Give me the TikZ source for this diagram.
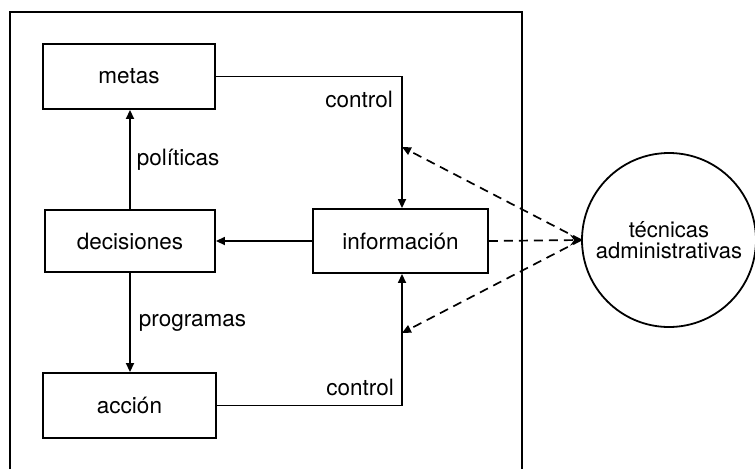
\documentclass[tikz,border=0pt]{standalone}
\usepackage{fontspec}
\setmainfont{TeX Gyre Heros}
\usetikzlibrary{arrows.meta}
\begin{document}
\begin{tikzpicture}[x=1pt,y=-1pt,
  every node/.style={font=\fontsize{22.5}{24}\selectfont},
  box/.style={draw,line width=1.9pt,inner sep=0pt},
  conn/.style={line width=1.7pt},
  arr/.style={conn,-{Triangle[length=9pt,width=8pt]}},
  dsh/.style={line width=1.7pt,dash pattern=on 9pt off 6pt},
  lbl/.style={inner sep=0pt}]
\useasboundingbox (0,0) rectangle (755,469);
\draw[line width=1.7pt] (10,469) -- (10,12) -- (522,12) -- (522,469);
\node[box,minimum width=172pt,minimum height=65pt] (metas) at (129,76.5) {metas};
\node[box,minimum width=170pt,minimum height=62pt] (decisiones) at (130,241) {decisiones};
\node[box,minimum width=173pt,minimum height=65pt] (accion) at (129.5,405.5) {acción};
\node[box,minimum width=175pt,minimum height=64pt] (informacion) at (400.5,241) {información};
\node[draw,circle,line width=1.8pt,minimum size=174pt,inner sep=0pt,align=center,
  font=\fontsize{22}{21.5}\selectfont] (tec) at (669,240) {técnicas\\administrativas};
\coordinate (tu) at (402,147);
\coordinate (tl) at (402,333);
\draw[arr] (decisiones.north) -- (decisiones.north |- metas.south)
  node[midway,right=6pt,lbl] (pol) {políticas};
\draw[arr] (decisiones.south) -- (decisiones.south |- accion.north)
  node[midway,right=8pt,lbl] (prog) {programas};
\draw[arr] (informacion.west) -- (decisiones.east);
\draw[arr] (metas.east) -| (tu |- informacion.north);
\draw[arr] (accion.east) -| (tl |- informacion.south);
\node[lbl,anchor=east] (c1) at (393,99) {control};
\node[lbl,anchor=east] (c2) at (394,387) {control};
\draw[dsh,-{Triangle[length=9pt,width=8pt]}] (tec.west) -- (tu);
\draw[dsh,-{Triangle[length=9pt,width=8pt]}] (tec.west) -- (tl);
\draw[dsh,-{Stealth[length=11pt,width=11pt,inset=4pt]}] (informacion.east) -- (tec.west);
\end{tikzpicture}
\end{document}
